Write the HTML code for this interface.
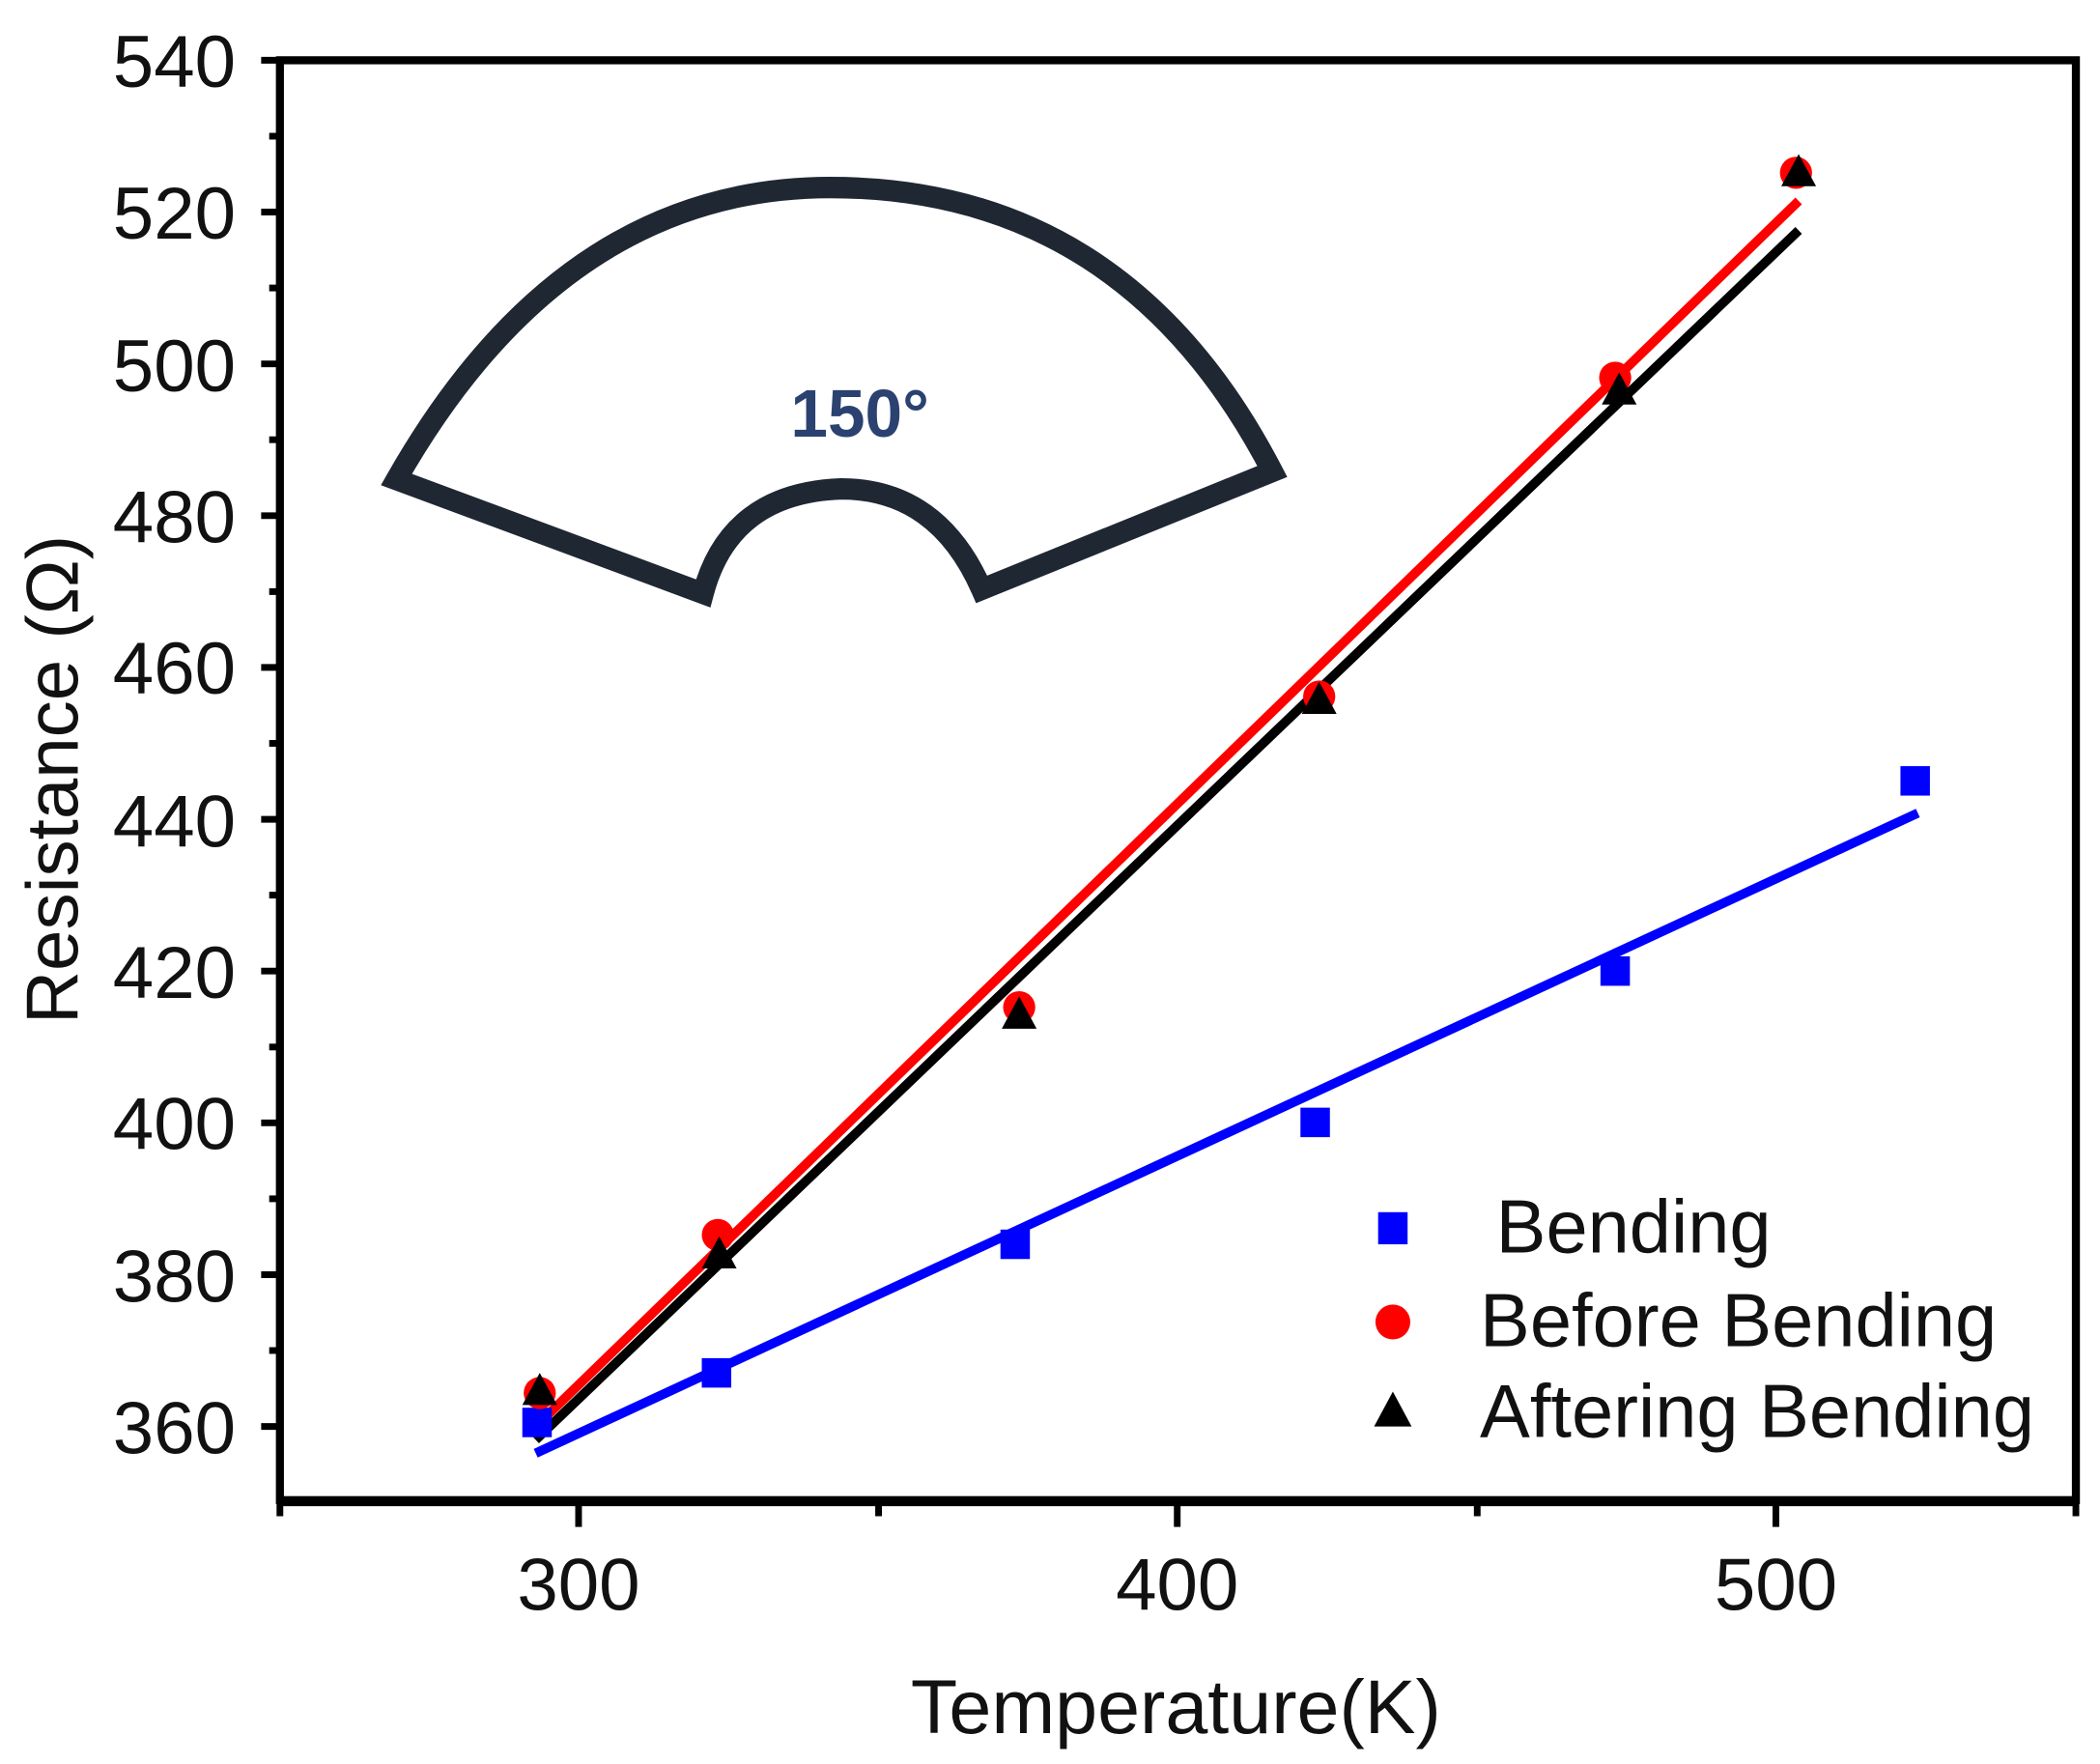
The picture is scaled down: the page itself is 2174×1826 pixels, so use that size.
<!DOCTYPE html>
<html><head><meta charset="utf-8">
<style>html,body{margin:0;padding:0;background:#fff;}svg{display:block;}</style>
</head><body>
<svg width="2174" height="1826" viewBox="0 0 1568 1317" preserveAspectRatio="none" xmlns="http://www.w3.org/2000/svg" font-family="Liberation Sans, sans-serif">
<rect width="1568" height="1317" fill="#fff"/>
<rect x="209" y="45" width="1341" height="1075" fill="none" stroke="#000" stroke-width="6"/>
<line x1="207" y1="1121" x2="1552" y2="1121" stroke="#000" stroke-width="7"/>
<g stroke="#000" stroke-width="5">
<line x1="195" y1="45" x2="209" y2="45"/><line x1="195" y1="158.3" x2="209" y2="158.3"/>
<line x1="195" y1="271.7" x2="209" y2="271.7"/><line x1="195" y1="385" x2="209" y2="385"/>
<line x1="195" y1="498.3" x2="209" y2="498.3"/><line x1="195" y1="611.7" x2="209" y2="611.7"/>
<line x1="195" y1="725" x2="209" y2="725"/><line x1="195" y1="838.3" x2="209" y2="838.3"/>
<line x1="195" y1="951.7" x2="209" y2="951.7"/><line x1="195" y1="1065" x2="209" y2="1065"/>
<line x1="201" y1="101.7" x2="209" y2="101.7"/><line x1="201" y1="215" x2="209" y2="215"/>
<line x1="201" y1="328.3" x2="209" y2="328.3"/><line x1="201" y1="441.7" x2="209" y2="441.7"/>
<line x1="201" y1="555" x2="209" y2="555"/><line x1="201" y1="668.3" x2="209" y2="668.3"/>
<line x1="201" y1="781.7" x2="209" y2="781.7"/><line x1="201" y1="895" x2="209" y2="895"/>
<line x1="201" y1="1008.3" x2="209" y2="1008.3"/>
<line x1="209" y1="1120" x2="209" y2="1132"/><line x1="432" y1="1120" x2="432" y2="1140"/>
<line x1="656" y1="1120" x2="656" y2="1132"/><line x1="879" y1="1120" x2="879" y2="1140"/>
<line x1="1103" y1="1120" x2="1103" y2="1132"/><line x1="1326" y1="1120" x2="1326" y2="1140"/>
<line x1="1550" y1="1120" x2="1550" y2="1132"/>
</g>
<g font-size="55" fill="#111" text-anchor="end">
<text x="176" y="65">540</text><text x="176" y="178">520</text><text x="176" y="292">500</text>
<text x="176" y="405">480</text><text x="176" y="518">460</text><text x="176" y="632">440</text>
<text x="176" y="745">420</text><text x="176" y="858">400</text><text x="176" y="972">380</text>
<text x="176" y="1085">360</text>
</g>
<g font-size="55" fill="#111" text-anchor="middle">
<text x="432" y="1202">300</text><text x="879" y="1202">400</text><text x="1326" y="1202">500</text>
</g>
<text x="878" y="1294" font-size="57" text-anchor="middle" fill="#111">Temperature(K)</text>
<text transform="translate(58,582) rotate(-90)" font-size="55" text-anchor="middle" fill="#111">Resistance (Ω)</text>
<path d="M296,358 Q420,140 620,140 Q840,140 950,352 L733,440 Q700,365 628,365 Q545,368 525,443 Z" fill="none" stroke="#1f2733" stroke-width="16" stroke-linejoin="miter"/>
<text x="642" y="326" font-size="50" font-weight="bold" fill="#2b4270" text-anchor="middle">150°</text>
<line x1="400" y1="1085" x2="1432" y2="607" stroke="#0000ff" stroke-width="7"/>
<line x1="400" y1="1075" x2="1343" y2="172" stroke="#000" stroke-width="7"/>
<line x1="400" y1="1065" x2="1343" y2="150" stroke="#ff0000" stroke-width="7"/>
<g fill="#0000ff">
<rect x="390" y="1051" width="22" height="22"/><rect x="524" y="1014" width="22" height="22"/>
<rect x="747" y="918" width="22" height="22"/><rect x="971" y="827" width="22" height="22"/>
<rect x="1195" y="714" width="22" height="22"/><rect x="1419" y="572" width="22" height="22"/>
</g>
<g fill="#ff0000">
<circle cx="403" cy="1040" r="12"/><circle cx="536" cy="922" r="12"/><circle cx="761" cy="752" r="12"/>
<circle cx="985" cy="520" r="12"/><circle cx="1206" cy="282" r="12"/><circle cx="1341" cy="129" r="12"/>
</g>
<g fill="#000">
<polygon points="403,1025 390,1049 416,1049"/><polygon points="537,923 524,947 550,947"/>
<polygon points="761,744 748,768 774,768"/><polygon points="985,509 972,533 998,533"/>
<polygon points="1209,278 1196,302 1222,302"/><polygon points="1343,115 1330,139 1356,139"/>
</g>
<rect x="1029" y="905" width="22" height="24" fill="#0000ff"/>
<circle cx="1040" cy="987" r="13" fill="#ff0000"/>
<polygon points="1040,1039 1026,1065 1054,1065" fill="#000"/>
<g font-size="56" fill="#111">
<text x="1117" y="935">Bending</text>
<text x="1105" y="1005">Before Bending</text>
<text x="1105" y="1073">Aftering Bending</text>
</g>
</svg>
</body></html>
